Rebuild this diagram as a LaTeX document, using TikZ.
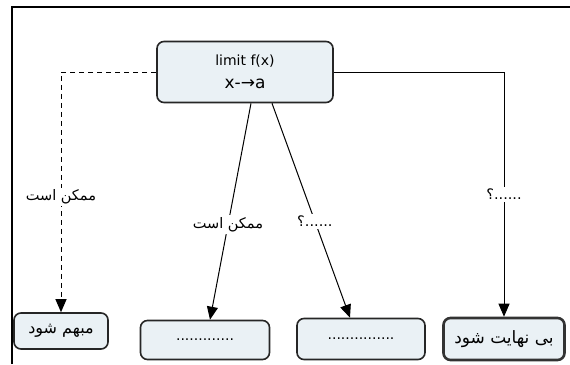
\documentclass[tikz,border=0pt]{standalone}
\usepackage{fontspec}
\setmainfont{DejaVu Sans}
\newfontfamily\arabicfont[Script=Arabic]{DejaVu Sans}
\TeXXeTstate=1
\usepackage{xcolor}
\usetikzlibrary{arrows.meta}
\definecolor{boxfill}{HTML}{EAF1F5}
\tikzset{
    block/.style    = { rectangle, draw=black!85, line width=1.6pt,
	fill=boxfill, rounded corners=7pt, inner sep=0pt,
	font=\fontsize{14}{16}\selectfont },
	line/.style     = { draw, line width=1pt, -{Triangle[length=13pt,width=11pt]} },
	tag/.style      = { fill=white, inner sep=2pt, font=\arabicfont\fontsize{14.5}{16}\selectfont },
}

\begin{document}
\begin{tikzpicture}[x=1pt,y=-1pt]
				\useasboundingbox (0,0) rectangle (570,364);
				\draw[line width=1.5pt] (12,364) |- (570,7);
				% nodes
				\node (lim) [block, minimum width=176pt, minimum height=61pt, align=center] at (245,72)
					{limit f(x)\\[7pt] {\fontsize{17}{19}\selectfont x-→a}};
				\node (n1) [block, minimum width=94pt, minimum height=36pt, font=\arabicfont\fontsize{16}{18}\selectfont] at (61,331) {\beginR مبهم شود\endR};
				\node (n2) [block, minimum width=129pt, minimum height=39pt] at (205,340) {.............};
				\node (n3) [block, minimum width=128pt, minimum height=41pt] at (361,339) {...............};
				\node (n4) [block, draw=black!80, line width=2.6pt, minimum width=121pt, minimum height=42pt, font=\arabicfont\fontsize{17}{19}\selectfont] at (504,339) {\beginR بی نهایت شود\endR};
				% connectors
				\draw[line, dash pattern=on 5pt off 4pt] (lim.west) -| (n1.north) node[tag, pos=0.76] {\beginR ممکن است\endR};
				\draw[line] ([xshift=6pt]lim.south) -- ([xshift=5pt]n2.north) node[tag, pos=0.56] {\beginR ممکن است\endR};
				\draw[line] ([xshift=27pt]lim.south) -- ([xshift=-11pt]n3.north) node[tag, pos=0.55] {\beginR ......؟\endR};
				\draw[line] (lim.east) -| (n4.north) node[tag, pos=0.75] {\beginR ......؟\endR};
\end{tikzpicture}
\end{document}
